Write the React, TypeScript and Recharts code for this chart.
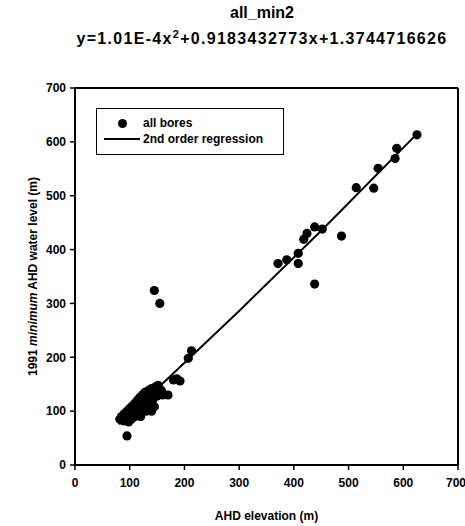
import React from 'react';
import {
  ComposedChart,
  Scatter,
  XAxis,
  YAxis,
  ReferenceLine,
} from 'recharts';

// measured bores: AHD elevation (m) vs 1991 minimum water level (m)
const boreElev = [
  82, 85, 88, 90, 92, 95, 97, 98, 100, 100, 102, 103, 105, 106, 108, 110, 110, 112, 114, 115,
  117, 118, 120, 122, 123, 125, 127, 128, 130, 132, 134, 135, 138, 140, 142, 145, 147, 150, 152, 155,
  158, 160, 145, 140, 120, 130, 95, 170, 180, 192, 186, 207, 213, 145, 155,
  371, 387, 408, 408, 418, 424, 438, 452, 438, 487, 514, 546, 554, 585, 588, 625,
];
const boreLevel = [
  85, 90, 82, 95, 88, 100, 92, 80, 105, 90, 98, 85, 110, 95, 100, 115, 90, 105, 120, 98,
  110, 125, 100, 115, 130, 108, 120, 135, 112, 125, 138, 118, 130, 142, 120, 135, 145, 128, 148, 140,
  138, 130, 108, 100, 90, 100, 54, 130, 158, 156, 160, 198, 212, 324, 300,
  374, 381, 374, 393, 419, 430, 442, 438, 336, 425, 515, 514, 551, 569, 588, 613,
];

// 2nd order regression curve
const regElev = [80, 150, 300, 450, 625];
const regLevel = [75.5, 141.4, 286, 435.1, 614.8];

const xTicks = [0, 100, 200, 300, 400, 500, 600, 700];
const yTicks = [0, 100, 200, 300, 400, 500, 600, 700];

const bores = boreElev.map((x, i) => ({ x, y: boreLevel[i] }));
const regression = regElev.map((x, i) => ({ x, y: regLevel[i] }));

const FONT = '"Liberation Sans", Arial, sans-serif';

const tickStyle = { fontFamily: FONT, fontSize: 12, fontWeight: 700, fill: '#000' };

const YLabel = (props: any) => {
  const { viewBox } = props;
  const cy = viewBox.y + viewBox.height / 2;
  const cx = 33;
  return (
    <text
      x={cx}
      y={cy}
      transform={`rotate(-90 ${cx} ${cy})`}
      textAnchor="middle"
      dominantBaseline="central"
      style={{ fontFamily: FONT, fontSize: 12, fontWeight: 700, fill: '#000' }}
    >
      1991 <tspan fontStyle="italic">minimum</tspan> AHD water level (m)
    </text>
  );
};

const LegendBox = () => (
  <div
    style={{
      position: 'absolute',
      left: 96,
      top: 108,
      border: '1.5px solid #000',
      width: 188,
      height: 47,
      boxSizing: 'border-box',
      fontFamily: FONT,
      fontSize: 12,
      fontWeight: 700,
      color: '#000',
      padding: '6px 0 0 7px',
      background: '#fff',
    }}
  >
    <div style={{ display: 'flex', alignItems: 'center', height: 16 }}>
      <span style={{ width: 36, display: 'flex', justifyContent: 'center' }}>
        <span style={{ width: 9, height: 9, borderRadius: '50%', background: '#000' }} />
      </span>
      <span style={{ marginLeft: 3 }}>all bores</span>
    </div>
    <div style={{ display: 'flex', alignItems: 'center', height: 16 }}>
      <span style={{ width: 36, height: 2, background: '#000' }} />
      <span style={{ marginLeft: 3 }}>2nd order regression</span>
    </div>
  </div>
);

export default function App() {
  return (
    <div style={{ position: 'absolute', left: 0, top: 0, width: 465, height: 526, background: '#fff' }}>
      <div
        style={{
          position: 'absolute',
          left: 0,
          width: 524,
          top: 0,
          textAlign: 'center',
          fontFamily: FONT,
          fontWeight: 700,
          color: '#000',
          lineHeight: '26px',
        }}
      >
        <div style={{ fontSize: 16 }}>all_min2</div>
        <div style={{ fontSize: 16, letterSpacing: 1.3 }}>
          y=1.01E-4x<sup style={{ fontSize: 11, lineHeight: 0 }}>2</sup>+0.9183432773x+1.3744716626
        </div>
      </div>
      <ComposedChart
        width={465}
        height={526}
        margin={{ top: 88, right: 7, bottom: 0, left: 10 }}
        style={{ position: 'absolute', left: 0, top: 0 }}
      >
        <XAxis
          type="number"
          dataKey="x"
          domain={[0, 700]}
          ticks={xTicks}
          tick={tickStyle}
          tickLine={{ stroke: '#000', strokeWidth: 1.5 }}
          axisLine={{ stroke: '#000', strokeWidth: 2 }}
          tickSize={5}
          tickMargin={8}
          height={61}
          label={{
            value: 'AHD elevation (m)',
            position: 'insideBottom',
            offset: 6,
            style: { fontFamily: FONT, fontSize: 12, fontWeight: 700, fill: '#000' },
          }}
        />
        <YAxis
          type="number"
          dataKey="y"
          domain={[0, 700]}
          ticks={yTicks}
          tick={tickStyle}
          tickLine={{ stroke: '#000', strokeWidth: 1.5 }}
          axisLine={{ stroke: '#000', strokeWidth: 2 }}
          tickSize={5}
          tickMargin={4}
          width={65}
          label={<YLabel />}
        />
        <ReferenceLine y={700} stroke="#000" strokeWidth={2} />
        <ReferenceLine x={700} stroke="#000" strokeWidth={2} />
        <Scatter
          name="all bores"
          data={bores}
          fill="#000"
          shape={(p: any) => <circle cx={p.cx} cy={p.cy} r={4.6} fill="#000" />}
          isAnimationActive={false}
        />
        <Scatter
          name="2nd order regression"
          data={regression}
          line={{ stroke: '#000', strokeWidth: 2 }}
          shape={() => <g />}
          isAnimationActive={false}
        />
      </ComposedChart>
      <LegendBox />
    </div>
  );
}
